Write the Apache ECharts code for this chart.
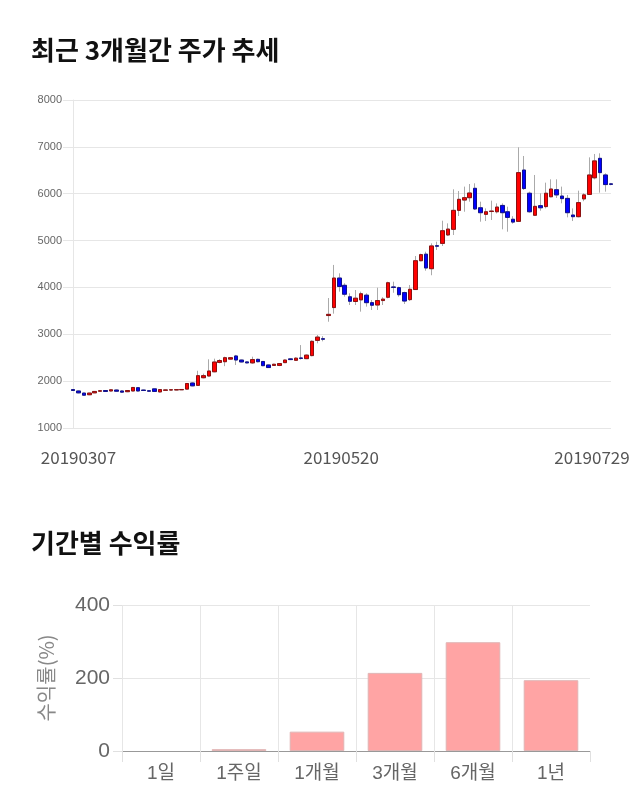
<!DOCTYPE html>
<html>
<head>
<meta charset="utf-8">
<script src="https://cdn.jsdelivr.net/npm/echarts@6/dist/echarts.min.js"></script>
<style>
html,body{margin:0;padding:0;background:#fff;}
#c{width:640px;height:810px;}
</style>
</head>
<body>
<div id="c"></div>
<script>
const dates = [
'20190307','20190308','20190311','20190312','20190313','20190314','20190315','20190318','20190319','20190320',
'20190321','20190322','20190325','20190326','20190327','20190328','20190329','20190401','20190402','20190403',
'20190404','20190405','20190408','20190409','20190410','20190411','20190412','20190415','20190416','20190417',
'20190418','20190419','20190422','20190423','20190424','20190425','20190426','20190429','20190430','20190502',
'20190503','20190507','20190508','20190509','20190510','20190513','20190514','20190515','20190516','20190517',
'20190520','20190521','20190522','20190523','20190524','20190527','20190528','20190529','20190530','20190531',
'20190603','20190604','20190605','20190607','20190610','20190611','20190612','20190613','20190614','20190617',
'20190618','20190619','20190620','20190621','20190624','20190625','20190626','20190627','20190628','20190701',
'20190702','20190703','20190704','20190705','20190708','20190709','20190710','20190711','20190712','20190715',
'20190716','20190717','20190718','20190719','20190722','20190723','20190724','20190725','20190726','20190729'
];
const opens = [
1820,1790,1745,1710,1750,1785,1800,1790,1810,1790,
1775,1790,1860,1810,1795,1835,1770,1805,1810,1812,
1815,1830,1960,1910,2073,2110,2200,2400,2415,2470,
2537,2450,2410,2390,2465,2420,2345,2335,2335,2395,
2475,2445,2495,2480,2545,2870,2905,3400,3570,4200,
4045,3800,3700,3735,3835,3675,3625,3720,3790,4010,
3995,3890,3740,3955,4570,4710,4400,4890,4940,5120,
5240,5645,5865,5915,6115,5700,5560,5620,5615,5750,
5615,5455,5410,6505,6010,5540,5745,5725,5935,6085,
5950,5900,5545,5510,5890,5985,6340,6755,6400,6210
];
const closes = [
1800,1750,1700,1745,1780,1795,1780,1815,1785,1765,
1800,1865,1790,1800,1785,1780,1820,1812,1816,1818,
1822,1950,1900,2117,2117,2216,2408,2440,2500,2500,
2451,2410,2390,2460,2415,2330,2290,2360,2375,2450,
2460,2490,2485,2555,2850,2940,2895,3425,4200,4020,
3855,3705,3770,3865,3675,3620,3720,3750,4100,4000,
3845,3710,3960,4570,4700,4415,4885,4880,5210,5245,
5645,5880,5915,6015,5675,5595,5615,5630,5715,5595,
5495,5395,6450,6110,5615,5730,5700,6010,6100,5975,
5895,5595,5510,5810,5975,6400,6700,6450,6195,6200
];
const lows = [
1790,1740,1690,1700,1745,1770,1770,1780,1770,1750,
1765,1785,1780,1790,1775,1770,1760,1800,1805,1808,
1810,1825,1890,1900,2060,2100,2190,2380,2320,2460,
2344,2400,2380,2370,2400,2320,2280,2325,2320,2390,
2450,2430,2460,2470,2530,2808,2850,3268,3440,3910,
3803,3625,3625,3483,3590,3518,3518,3625,3767,3886,
3803,3647,3710,3945,4560,4357,4260,4800,4884,5097,
5119,5524,5616,5830,5652,5403,5417,5439,5580,5240,
5189,5360,5396,6080,5595,5524,5637,5687,5923,5909,
5795,5496,5417,5496,5840,5973,6307,6022,6044,6180
];
const highs = [
1830,1800,1750,1750,1790,1810,1810,1830,1820,1800,
1810,1875,1870,1820,1805,1840,1825,1820,1822,1825,
1830,1960,1975,2222,2160,2466,2480,2470,2522,2510,
2560,2460,2420,2522,2480,2430,2355,2370,2385,2460,
2490,2510,2770,2570,2870,2985,2960,3774,4480,4301,
4088,3875,3945,3910,3875,3732,3994,3790,4122,4122,
4016,3910,4052,4671,4720,4762,4941,4976,5424,5367,
6094,6058,6151,6207,6222,5830,5687,5852,5794,5794,
5723,5520,6990,6805,6044,6400,6008,6236,6307,6307,
6151,5973,5687,6065,6010,6776,6848,6862,6435,6230
];
const xLabelIdx = [0, 50, 99];
const yTicks1 = [1000, 2000, 3000, 4000, 5000, 6000, 7000, 8000];

const periods = ['1일','1주일','1개월','3개월','6개월','1년'];
const returns = [0, 5, 53, 214, 298, 194];
const yTicks2 = [0, 200, 400];

const wickData = dates.map((d, i) => [opens[i], closes[i], lows[i], highs[i]]);
const bodyData = dates.map((d, i) => [opens[i], closes[i], Math.min(opens[i], closes[i]), Math.max(opens[i], closes[i])]);
const barData = returns.map(v => v === 0 ? {value: v, itemStyle: {borderWidth: 0}} : v);

const FONT = "'Liberation Sans','Noto Sans CJK KR',sans-serif";
const KFONT = "'Noto Sans CJK KR',sans-serif";
const chart = echarts.init(document.getElementById('c'), null, {renderer: 'canvas'});
const lbl = {fontSize: 17, color: '#555', fontFamily: KFONT};
chart.setOption({
  animation: false,
  backgroundColor: '#fff',
  title: [
    {text: '최근 3개월간 주가 추세', left: 26, top: 32, textStyle: {fontSize: 26, fontWeight: 'bold', color: '#111', fontFamily: KFONT}},
    {text: '기간별 수익률', left: 26, top: 525, textStyle: {fontSize: 26, fontWeight: 'bold', color: '#111', fontFamily: KFONT}}
  ],
  grid: [
    {left: 73, right: 29, top: 100, bottom: 382},
    {left: 122, right: 50, top: 605, bottom: 59}
  ],
  xAxis: [
    {
      type: 'category', gridIndex: 0, data: dates, boundaryGap: false,
      axisLine: {show: false}, axisTick: {show: false}, splitLine: {show: false},
      axisLabel: {
        interval: (i) => xLabelIdx.includes(i),
        margin: 21,
        fontSize: 17, color: '#555', fontFamily: KFONT,
        formatter: (v, i) => i === xLabelIdx[0] ? '{a|' + v + '}' : (i === xLabelIdx[2] ? '{c|' + v + '}' : '{b|' + v + '}'),
        rich: {
          a: Object.assign({padding: [0, 0, 0, 11]}, lbl),
          b: Object.assign({padding: [0, 7, 0, 0]}, lbl),
          c: Object.assign({padding: [0, 38, 0, 0]}, lbl)
        }
      }
    },
    {
      type: 'category', gridIndex: 1, data: periods,
      axisLine: {show: true, lineStyle: {color: '#999', width: 1}},
      axisTick: {show: true, length: 11, lineStyle: {color: '#e0e0e0'}},
      splitLine: {show: true, showMaxLine: false, lineStyle: {color: '#e6e6e6'}},
      axisLabel: {fontSize: 19, color: '#666', margin: 13, fontFamily: FONT}
    }
  ],
  yAxis: [
    {
      type: 'value', gridIndex: 0, min: yTicks1[0], max: yTicks1[yTicks1.length - 1], interval: 1000,
      axisLine: {show: true, lineStyle: {color: '#e6e6e6'}},
      axisTick: {show: true, length: 10, lineStyle: {color: '#e6e6e6'}},
      splitLine: {show: true, lineStyle: {color: '#e6e6e6'}},
      axisLabel: {fontSize: 11, color: '#666', margin: 11, fontFamily: FONT, formatter: (v) => String(v)}
    },
    {
      type: 'value', gridIndex: 1, min: yTicks2[0], max: yTicks2[yTicks2.length - 1], interval: 200,
      name: '수익률(%)', nameLocation: 'middle', nameGap: 66, nameRotate: 90,
      nameTextStyle: {fontSize: 20, color: '#888', fontFamily: KFONT},
      axisLine: {show: false},
      axisTick: {show: true, length: 9, lineStyle: {color: '#e0e0e0'}},
      splitLine: {show: true, lineStyle: {color: '#e6e6e6'}},
      axisLabel: {fontSize: 21, color: '#666', margin: 12, fontFamily: FONT, formatter: (v) => String(v)}
    }
  ],
  series: [
    {
      type: 'candlestick', xAxisIndex: 0, yAxisIndex: 0, data: wickData, barWidth: 4, clip: false,
      itemStyle: {color: '#aaa', color0: '#aaa', borderColor: '#aaa', borderColor0: '#aaa', borderWidth: 1}
    },
    {
      type: 'candlestick', xAxisIndex: 0, yAxisIndex: 0, data: bodyData, barWidth: 4, clip: false,
      itemStyle: {color: '#ff0000', color0: '#0000ff', borderColor: '#8b1010', borderColor0: '#10108b', borderWidth: 1}
    },
    {
      type: 'bar', xAxisIndex: 1, yAxisIndex: 1, data: barData, barWidth: '70%',
      itemStyle: {color: '#ffa4a4', borderColor: '#e0b4b4', borderWidth: 1}
    }
  ]
});
</script>
</body>
</html>
